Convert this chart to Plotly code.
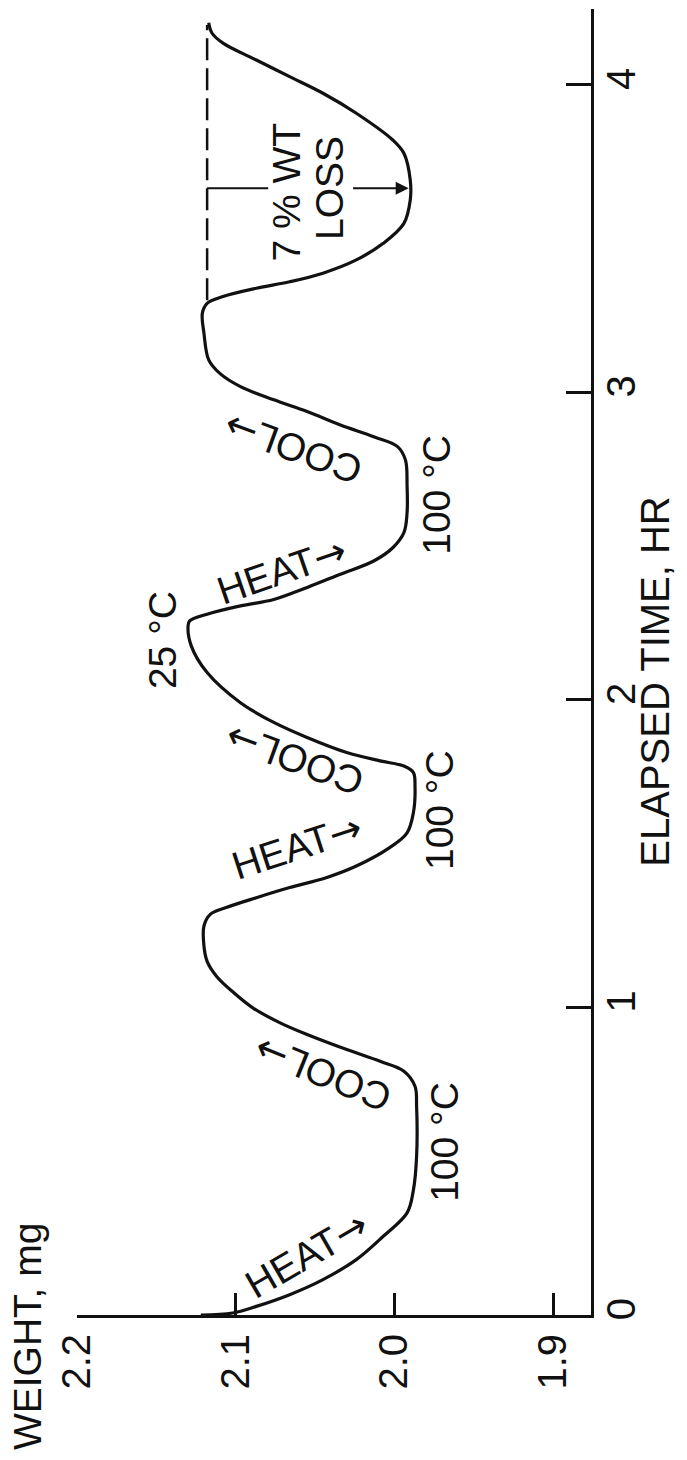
import plotly.graph_objects as go

# ---- data ----
time_hr = [0.000, 0.0065, 0.028, 0.066, 0.115, 0.180, 0.256, 0.332, 0.407, 0.516,
           0.679, 0.744, 0.793, 0.825, 0.863, 0.912, 0.950, 0.998, 1.047, 1.101,
           1.150, 1.200, 1.265, 1.303, 1.325, 1.357, 1.390, 1.422, 1.460, 1.520,
           1.568, 1.634, 1.720, 1.764, 1.785, 1.802, 1.829, 1.878, 1.927, 1.991,
           2.089, 2.176, 2.241, 2.257, 2.279, 2.306, 2.327, 2.366, 2.409, 2.452,
           2.495, 2.544, 2.609, 2.696, 2.780, 2.824, 2.856, 2.894, 2.938, 2.976,
           3.019, 3.062, 3.106, 3.193, 3.258, 3.290, 3.312, 3.339, 3.360, 3.388,
           3.431, 3.485, 3.550, 3.626, 3.691, 3.778, 3.821, 3.908, 3.973, 4.027,
           4.081, 4.136, 4.169, 4.202]
weight_mg = [2.122, 2.102, 2.087, 2.066, 2.045, 2.024, 2.007, 1.992, 1.988, 1.986,
             1.986, 1.987, 1.994, 2.009, 2.030, 2.055, 2.072, 2.089, 2.101, 2.112,
             2.118, 2.120, 2.120, 2.116, 2.106, 2.087, 2.066, 2.043, 2.024, 2.003,
             1.992, 1.988, 1.987, 1.988, 1.994, 2.009, 2.030, 2.055, 2.076, 2.097,
             2.118, 2.128, 2.130, 2.129, 2.118, 2.097, 2.076, 2.055, 2.034, 2.013,
             2.001, 1.994, 1.992, 1.992, 1.993, 1.998, 2.013, 2.034, 2.055, 2.076,
             2.097, 2.110, 2.117, 2.120, 2.121, 2.118, 2.108, 2.087, 2.066, 2.045,
             2.024, 2.007, 1.994, 1.990, 1.990, 1.994, 2.001, 2.024, 2.045, 2.066,
             2.087, 2.108, 2.115, 2.117]

weight_ticks = [2.2, 2.1, 2.0, 1.9]
weight_tick_labels = ["2.2", "2.1", "2.0", "1.9"]
time_ticks = [0, 1, 2, 3, 4]
time_tick_labels = ["0", "1", "2", "3", "4"]

loss_ref_time = [3.300, 4.195]
loss_ref_weight = [2.118, 2.118]
bracket_time = [3.664, 3.664]
bracket_weight = [2.118, 2.0795]
loss_arrow_weight = [2.027, 1.991]
loss_arrow_time = 3.664

FONT = "Liberation Sans, Arial, DejaVu Sans"
INK = "#111111"
ARROW = "<span style='font-family:DejaVu Sans'>\u2192</span>"

fig = go.Figure()
fig.add_trace(go.Scatter(x=weight_mg, y=time_hr, mode="lines", line_shape="spline",
                         line=dict(color=INK, width=3.2), hoverinfo="skip"))
fig.add_trace(go.Scatter(x=loss_ref_weight, y=loss_ref_time, mode="lines",
                         line=dict(color=INK, width=2.5, dash="22px,8px"), hoverinfo="skip"))
fig.add_trace(go.Scatter(x=bracket_weight, y=bracket_time, mode="lines",
                         line=dict(color=INK, width=2), hoverinfo="skip"))

anns = []
anns.append(dict(x=loss_arrow_weight[1], y=loss_arrow_time, ax=loss_arrow_weight[0], ay=loss_arrow_time,
                 xref="x", yref="y", axref="x", ayref="y", text="", showarrow=True,
                 arrowhead=2, arrowsize=1.3, arrowwidth=2, arrowcolor=INK))

labels = [
    ("HEAT" + ARROW, 2.0553, 0.196, -30),
    ("COOL" + ARROW, 2.0448, 0.787, -158),
    ("HEAT" + ARROW, 2.0616, 1.525, -18),
    ("COOL" + ARROW, 2.0626, 1.807, -160),
    ("HEAT" + ARROW, 2.0710, 2.420, -19),
    ("COOL" + ARROW, 2.0637, 2.819, -160),
    ("100 \u00b0C", 1.9681, 0.563, -90),
    ("100 \u00b0C", 1.9719, 1.642, -90),
    ("100 \u00b0C", 1.9732, 2.667, -90),
    ("25 \u00b0C", 2.1464, 2.195, -90),
    ("7 % WT", 2.0679, 3.652, -90),
    ("LOSS", 2.0406, 3.665, -90),
]
for txt, w, t, ang in labels:
    anns.append(dict(x=w, y=t, xref="x", yref="y", text=txt, showarrow=False,
                     textangle=ang, font=dict(family=FONT, size=39, color=INK),
                     xanchor="center", yanchor="middle"))

anns.append(dict(x=-0.095, y=-0.016, xref="paper", yref="paper", text="WEIGHT, mg",
                 showarrow=False, textangle=-90, font=dict(family=FONT, size=39, color=INK),
                 xanchor="center", yanchor="middle"))
anns.append(dict(x=1.124, y=0.4847, xref="paper", yref="paper", text="ELAPSED TIME, HR",
                 showarrow=False, textangle=-90, font=dict(family=FONT, size=40, color=INK),
                 xanchor="center", yanchor="middle"))

fig.update_layout(
    width=687, height=1460, autosize=False,
    margin=dict(l=77, r=96, t=9, b=145, pad=0),
    paper_bgcolor="white", plot_bgcolor="white",
    showlegend=False, annotations=anns,
    xaxis=dict(range=[2.2, 1.8761], showgrid=False, zeroline=False, showline=True,
               linecolor=INK, linewidth=3, ticks="inside", ticklen=22, tickwidth=2.5,
               tickcolor=INK, tickvals=weight_ticks, ticktext=weight_tick_labels,
               tickangle=-90, tickfont=dict(family=FONT, size=40, color=INK)),
    yaxis=dict(range=[0, 4.247], side="right", showgrid=False, zeroline=False, showline=True,
               linecolor=INK, linewidth=3, ticks="inside", ticklen=25, tickwidth=2.5,
               tickcolor=INK, tickvals=time_ticks, ticktext=time_tick_labels,
               tickangle=-90, ticklabelstandoff=-7,
               tickfont=dict(family=FONT, size=40, color=INK)),
)
fig.write_html("out.html")
